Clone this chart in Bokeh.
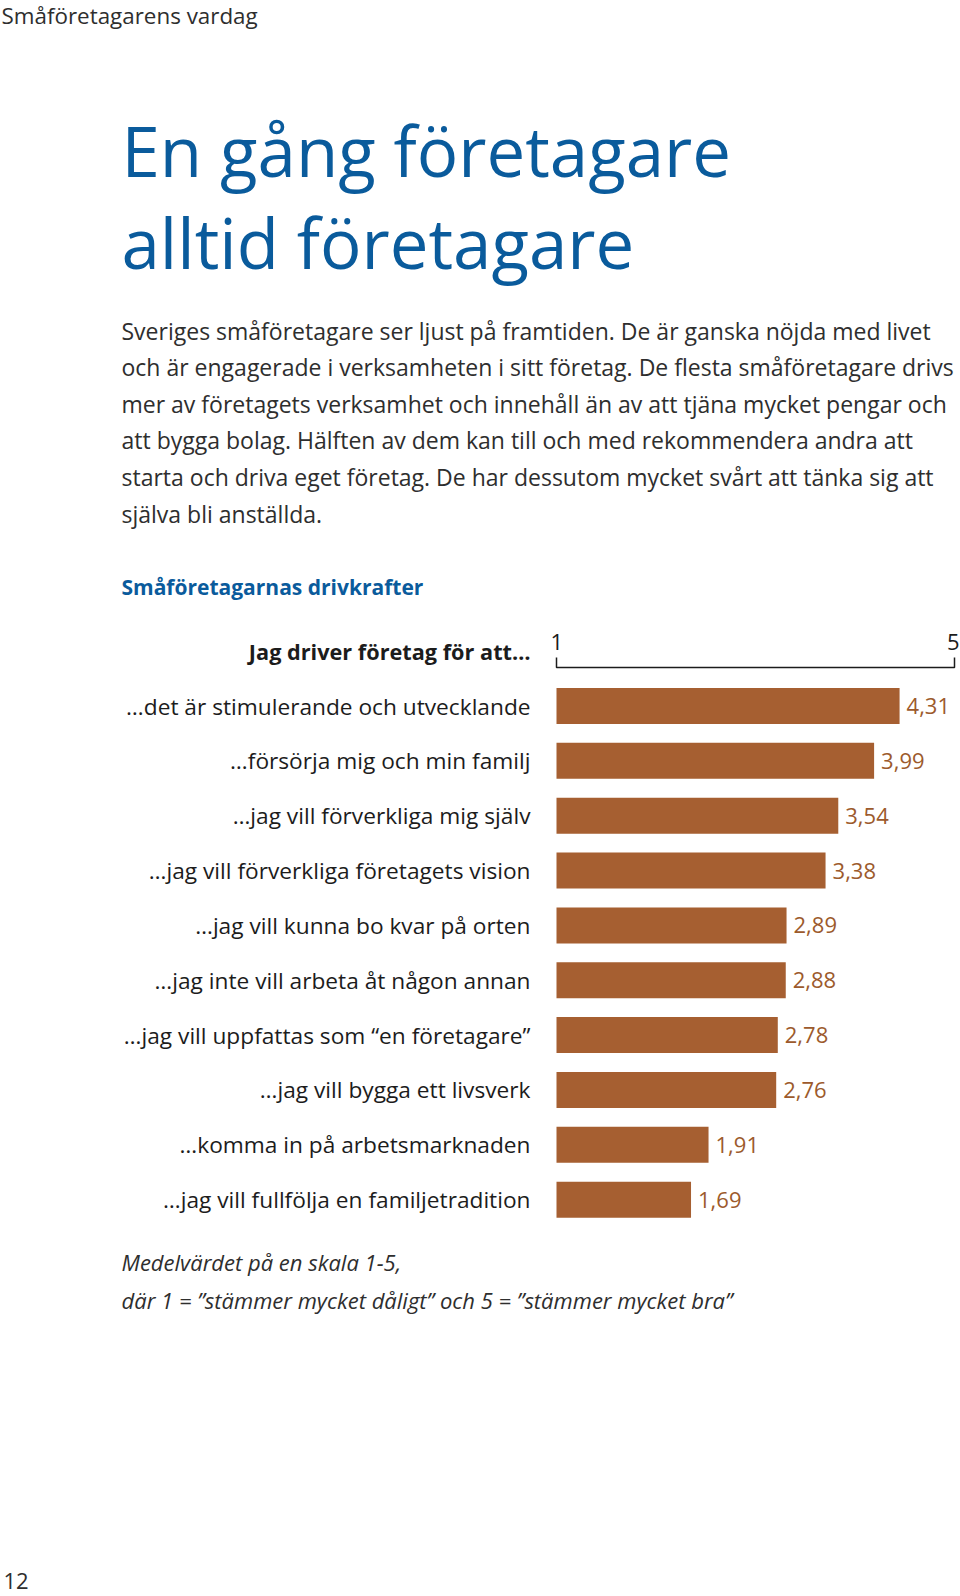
from bokeh.plotting import figure
from bokeh.models import Range1d, Label, ColumnDataSource
from bokeh.core.properties import value
from bokeh.embed import file_html
from bokeh.resources import INLINE

# ---- data ----
categories = [
    "…det är stimulerande och utvecklande",
    "…försörja mig och min familj",
    "…jag vill förverkliga mig själv",
    "…jag vill förverkliga företagets vision",
    "…jag vill kunna bo kvar på orten",
    "…jag inte vill arbeta åt någon annan",
    "…jag vill uppfattas som “en företagare”",
    "…jag vill bygga ett livsverk",
    "…komma in på arbetsmarknaden",
    "…jag vill fullfölja en familjetradition",
]
values = [4.31, 3.99, 3.54, 3.38, 2.89, 2.88, 2.78, 2.76, 1.91, 1.69]
value_labels = [f"{v:.2f}".replace(".", ",") for v in values]
scale_ends = [0, 5]
scale_labels = ["1", "5"]

header = "Småföretagarens vardag"
title_lines = ["En gång företagare", "alltid företagare"]
paragraph = [
    "Sveriges småföretagare ser ljust på framtiden. De är ganska nöjda med livet",
    "och är engagerade i verksamheten i sitt företag. De flesta småföretagare drivs",
    "mer av företagets verksamhet och innehåll än av att tjäna mycket pengar och",
    "att bygga bolag. Hälften av dem kan till och med rekommendera andra att",
    "starta och driva eget företag. De har dessutom mycket svårt att tänka sig att",
    "själva bli anställda.",
]
chart_title = "Småföretagarnas drivkrafter"
column_head = "Jag driver företag för att…"
footnote = [
    "Medelvärdet på en skala 1-5,",
    "där 1 = ”stämmer mycket dåligt” och 5 = ”stämmer mycket bra”",
]
page_no = "12"

# ---- layout ----
W, H = 960, 1596
PX_UNIT = 79.6      # pixels per value unit
X0 = 556            # pixel of value 0
ROW = 54.85         # pixels per row
Y0 = 705.5          # pixel of first row centre

FONT = "Open Sans"
BLUE = "#0a5b9c"
BAR = "#a65f31"
VAL = "#9c5a2c"
INK = "#1c1c1c"
GREY = "#2e2e2e"

p = figure(
    width=W, height=H, output_backend="svg", toolbar_location=None,
    x_range=Range1d(-X0 / PX_UNIT, (W - X0) / PX_UNIT),
    y_range=Range1d((H - Y0) / ROW, -Y0 / ROW),
    min_border=0, outline_line_color=None,
)
p.axis.visible = False
p.grid.visible = False
p.background_fill_color = "white"
p.border_fill_color = "white"

idx = list(range(len(categories)))
src = ColumnDataSource(dict(y=idx, v=values, cat=categories, lab=value_labels))

p.hbar(y="y", left=0, right="v", height=36 / ROW, source=src,
       fill_color=BAR, line_color=None)

p.text(x=0, y="y", text="cat", source=src, x_offset=-26,
       text_align="right", text_baseline="middle",
       text_font=value(FONT), text_font_size="22.7px", text_color=INK)

p.text(x="v", y="y", text="lab", source=src, x_offset=7,
       text_align="left", text_baseline="middle",
       text_font=value(FONT), text_font_size="22px", text_color=VAL)

# scale bracket
by = (667 - Y0) / ROW
bt = (657 - Y0) / ROW
p.line(x=[scale_ends[0], scale_ends[0], scale_ends[1], scale_ends[1]],
       y=[bt, by, by, bt], line_color=INK, line_width=1.5)
ly = (641 - Y0) / ROW
p.text(x=[scale_ends[0]], y=[ly], text=[scale_labels[0]], x_offset=-6,
       text_align="left", text_baseline="middle",
       text_font=value(FONT), text_font_size="22px", text_color=INK)
p.text(x=[scale_ends[1]], y=[ly], text=[scale_labels[1]], x_offset=5,
       text_align="right", text_baseline="middle",
       text_font=value(FONT), text_font_size="22px", text_color=INK)

p.text(x=[0], y=[(651 - Y0) / ROW], text=[column_head], x_offset=-26,
       text_align="right", text_baseline="middle",
       text_font=value(FONT), text_font_size="21.7px", text_font_style="bold",
       text_color=INK)


def lab(text, x, baseline_px, size, color, style="normal"):
    # Bokeh places the alphabetic baseline about 0.385 em below the given y
    y = baseline_px - 0.385 * size
    p.add_layout(Label(x=x, y=H - y, x_units="screen", y_units="screen",
                       text=text, text_font=FONT, text_font_size=f"{size}px",
                       text_color=color, text_font_style=style,
                       text_baseline="alphabetic", text_align="left"))


lab(header, 1, 24, 22.4, GREY)
for i, t in enumerate(title_lines):
    lab(t, 121, 176 + 92 * i, 69, BLUE)
for i, t in enumerate(paragraph):
    lab(t, 121, 339 + 36.6 * i, 23, GREY)
lab(chart_title, 121, 595, 21, BLUE, style="bold")
for i, t in enumerate(footnote):
    lab(t, 121, 1270 + 38 * i, 22, GREY, style="italic")
lab(page_no, 3, 1589, 22, GREY)

open("out.html", "w").write(file_html(p, INLINE))
